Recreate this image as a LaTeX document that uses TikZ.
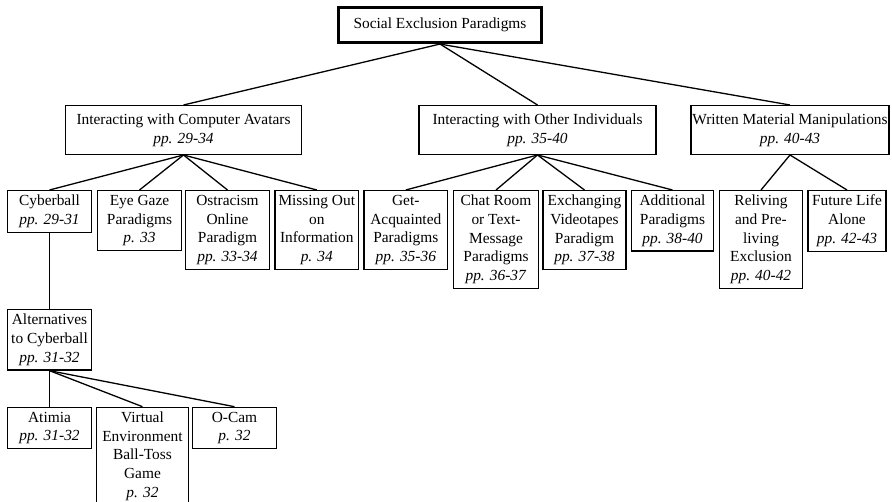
\documentclass[tikz,border=0pt]{standalone}
\usepackage{fontspec}
\setmainfont{Liberation Serif}
\begin{document}
\begin{tikzpicture}
    [x=1pt,y=-1pt,
     box/.style={draw,line width=1.3pt,align=center,anchor=north,
         inner xsep=1.5pt,inner ysep=4.5pt,minimum width=83.7pt,
         font=\fontsize{15.4pt}{18.7pt}\selectfont},
     head/.style={box,minimum height=48.7pt},
     link/.style={line width=1.3pt}]
\useasboundingbox (0,0) rectangle (892,502);
\path
    (440,6.35) node [box,line width=2.7pt,minimum width=202.7pt,minimum height=35pt] (root) {Social Exclusion Paradigms}
    % first level
    (183.5,105) node [head,minimum width=235.7pt] (avatars) {Interacting with Computer Avatars\\\textit{pp. 29-34}}
    (537.5,105) node [head,minimum width=237.1pt] (others) {Interacting with Other Individuals\\\textit{pp. 35-40}}
    (790,105) node [head,minimum width=195.3pt] (written) {Written Material Manipulations\\\textit{pp. 40-43}}
    % second level
    (49.5,190) node [box] (cyberball) {Cyberball\\\textit{pp. 29-31}}
    (139.5,190) node [box] (eyegaze) {Eye Gaze\\Paradigms\\\textit{p. 33}}
    (227.5,190) node [box] (ostracism) {Ostracism\\Online\\Paradigm\\\textit{pp. 33-34}}
    (316.8,190) node [box] (missing) {Missing Out\\on\\Information\\\textit{p. 34}}
    (405.8,190) node [box] (acquainted) {Get-\\Acquainted\\Paradigms\\\textit{pp. 35-36}}
    (496,190) node [box,minimum width=85.3pt] (chatroom) {Chat Room\\or Text-\\Message\\Paradigms\\\textit{pp. 36-37}}
    (584.5,190) node [box,minimum width=83.1pt] (videotapes) {Exchanging\\Videotapes\\Paradigm\\\textit{pp. 37-38}}
    (672.5,190) node [box,minimum width=82.3pt] (additional) {Additional\\Paradigms\\\textit{pp. 38-40}}
    (761,190) node [box,minimum width=82.7pt] (reliving) {Reliving\\and Pre-\\living\\Exclusion\\\textit{pp. 40-42}}
    (847,190) node [box,minimum width=78.1pt] (future) {Future Life\\Alone\\\textit{pp. 42-43}}
    % below cyberball
    (49.5,309) node [box] (alternatives) {Alternatives\\to Cyberball\\\textit{pp. 31-32}}
    (49.5,406.7) node [box] (atimia) {Atimia\\\textit{pp. 31-32}}
    (142.5,406.7) node [box,minimum width=91.7pt] (virtual) {Virtual\\Environment\\Ball-Toss\\Game\\\textit{p. 32}}
    (234.5,406.7) node [box] (ocam) {O-Cam\\\textit{p. 32}};
\draw [link] (root.south) -- (avatars.north);
\draw [link] (root.south) -- (others.north);
\draw [link] (root.south) -- (written.north);
\draw [link] (avatars.south) -- (cyberball.north);
\draw [link] (avatars.south) -- (eyegaze.north);
\draw [link] (avatars.south) -- (ostracism.north);
\draw [link] (avatars.south) -- (missing.north);
\draw [link] (others.south) -- (acquainted.north);
\draw [link] (others.south) -- (chatroom.north);
\draw [link] (others.south) -- (videotapes.north);
\draw [link] (others.south) -- (additional.north);
\draw [link] (written.south) -- (reliving.north);
\draw [link] (written.south) -- (future.north);
\draw [link] (cyberball.south) -- (alternatives.north);
\draw [link] (alternatives.south) -- (atimia.north);
\draw [link] (alternatives.south) -- (virtual.north);
\draw [link] (alternatives.south) -- (ocam.north);
\end{tikzpicture}
\end{document}
